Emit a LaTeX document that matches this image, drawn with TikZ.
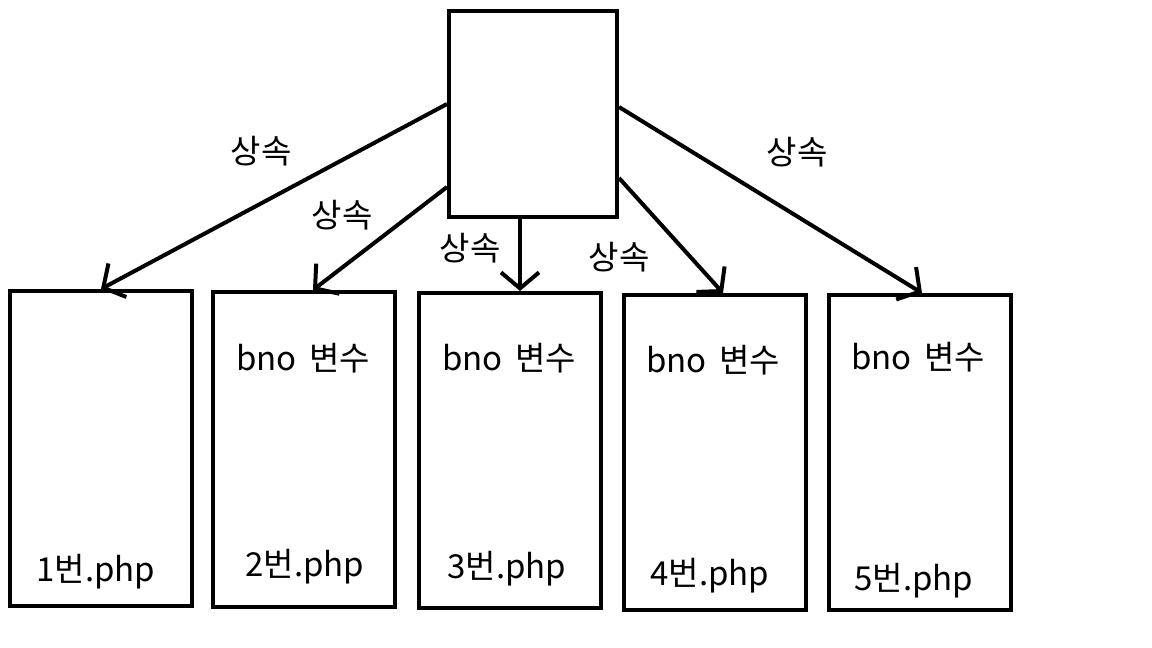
\documentclass[tikz,border=0pt]{standalone}
\usepackage{fontspec}
\setmainfont{Noto Sans CJK KR}
\usetikzlibrary{arrows.meta}

\begin{document}
\begin{tikzpicture}[x=1pt,y=-1pt]
      \tikzstyle{every node}+=[inner sep=0pt]
      \tikzstyle{page}=[draw=black, line width=4pt, minimum width=182pt, minimum height=315pt]
      \tikzstyle{word}=[font=\fontsize{33}{38}\selectfont]
      \tikzstyle{arr}=[draw=black, line width=4pt, -{Straight Barb[length=16pt,width=38pt,line width=4pt]}]
      \useasboundingbox (0,0) rectangle (1152,648);
      % parent
      \node [draw=black, line width=4pt, minimum width=168pt, minimum height=206pt] (parent) at (533,114) {};
      % child pages
      \node [page] (p1) at (101,448.5) {};
      \node [page] (p2) at (304,449.5) {};
      \node [page] (p3) at (510,450.5) {};
      \node [page] (p4) at (715,452.5) {};
      \node [page] (p5) at (920,452.5) {};
      \node [word] (v2) at (303,358) {bno\hspace{0.15em} 변수};
      \node [word] (v3) at (509,358) {bno\hspace{0.15em} 변수};
      \node [word] (v4) at (713,360) {bno\hspace{0.15em} 변수};
      \node [word] (v5) at (918,357) {bno\hspace{0.15em} 변수};
      \node [word] (f1) at (96,572) {1번.php};
      \node [word] (f2) at (305,567) {2번.php};
      \node [word] (f3) at (507,569) {3번.php};
      \node [word] (f4) at (710,576) {4번.php};
      \node [word] (f5) at (914,581) {5번.php};
      % inheritance arrows
      \draw [arr] (parent.west |- 0,104) -- (p1.north);
      \draw [arr] (parent.west |- 0,187) -- ([xshift=9pt]p2.north);
      \draw [arr] (parent.south -| 520,0) -- ([xshift=10pt]p3.north);
      \draw [arr] (parent.east |- 0,178) -- ([xshift=8pt]p4.north);
      \draw [arr] (parent.east |- 0,107) -- ([xshift=2pt]p5.north);
      \node [word] (s1) at (261,151) {상속};
      \node [word] (s2) at (342,215) {상속};
      \node [word] (s3) at (470,248) {상속};
      \node [word] (s4) at (619,257) {상속};
      \node [word] (s5) at (797,152) {상속};
\end{tikzpicture}
\end{document}
